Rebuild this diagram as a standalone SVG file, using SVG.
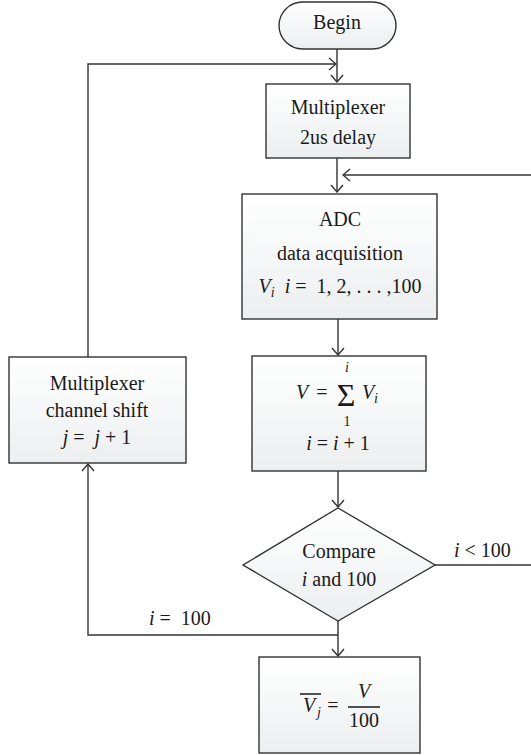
<svg xmlns="http://www.w3.org/2000/svg" width="531" height="755" viewBox="0 0 531 755">
<style>
.box{fill:url(#g);stroke:#333;stroke-width:1.4}
.c{fill:none;stroke:#333;stroke-width:1.4}
text{font-family:"Liberation Serif","DejaVu Serif",serif;fill:#1a1a1a}
.t{font-size:20px;text-anchor:middle}
.s{font-size:14px}
.i{font-style:italic}
</style>
<defs>
<linearGradient id="g" x1="0" y1="0" x2="0" y2="1">
<stop offset="0" stop-color="#ffffff"/>
<stop offset="1" stop-color="#eceeef"/>
</linearGradient>
<marker id="a" viewBox="-9 -7 10 14" refX="0" refY="0" markerWidth="10" markerHeight="14" markerUnits="userSpaceOnUse" orient="auto">
<path d="M-7,-6 L0,0 L-7,6" fill="none" stroke="#333" stroke-width="1.4"/>
</marker>
</defs>

<g id="connectors">
<path class="c" d="M337,49 V82" marker-end="url(#a)"/>
<path class="c" d="M88,357 V64 H336" marker-end="url(#a)"/>
<path class="c" d="M337,158 V192" marker-end="url(#a)"/>
<path class="c" d="M531,175 H343" marker-end="url(#a)"/>
<path class="c" d="M338,319 V355" marker-end="url(#a)"/>
<path class="c" d="M338,471 V507" marker-end="url(#a)"/>
<path class="c" d="M435,565 H531"/>
<path class="c" d="M338,621 V656" marker-end="url(#a)"/>
<path class="c" d="M338,635 H88 V464" marker-end="url(#a)"/>
<text class="t" x="454" y="557" style="text-anchor:start"><tspan class="i">i</tspan>&#160;&lt;&#160;100</text>
<text class="t" x="149" y="625" style="text-anchor:start"><tspan class="i">i</tspan>&#160;=&#160;&#160;100</text>
</g>

<g id="begin">
<rect class="box" x="279" y="2" width="117" height="47" rx="23.5" ry="23.5"/>
<text class="t" x="337" y="29">Begin</text>
</g>

<g id="mux-delay">
<rect class="box" x="266" y="84" width="144" height="74"/>
<text class="t" x="338" y="114">Multiplexer</text>
<text class="t" x="338" y="144">2us delay</text>
</g>

<g id="adc">
<rect class="box" x="242" y="194" width="195" height="125"/>
<text class="t" x="340" y="226">ADC</text>
<text class="t" x="340" y="260">data acquisition</text>
<text class="t" x="340" y="293"><tspan class="i">V</tspan><tspan class="i" font-size="14" dy="4">i</tspan><tspan dy="-4">&#160;&#160;</tspan><tspan class="i">i</tspan>&#160;=&#160;&#160;1, 2, . . . ,100</text>
</g>

<g id="sum">
<rect class="box" x="252" y="356" width="174" height="115"/>
<text class="t i" x="302" y="399">V</text>
<text class="t" x="322" y="399">=</text>
<text class="t" x="346" y="406" style="font-size:32px">Σ</text>
<text class="s i" x="347" y="372" text-anchor="middle">i</text>
<text class="s" x="347" y="426" text-anchor="middle">1</text>
<text class="t i" x="368" y="399">V</text>
<text class="s i" x="374" y="403">i</text>
<text class="t" x="338" y="450"><tspan class="i">i</tspan>&#160;=&#160;<tspan class="i">i</tspan>&#160;+&#160;1</text>
</g>

<g id="compare">
<polygon class="box" points="338,508 435,565 338,621 243,565"/>
<text class="t" x="339" y="558">Compare</text>
<text class="t" x="339" y="586"><tspan class="i">i</tspan> and 100</text>
</g>

<g id="mux-shift">
<rect class="box" x="9" y="357" width="177" height="106"/>
<text class="t" x="97" y="390">Multiplexer</text>
<text class="t" x="97" y="417">channel shift</text>
<text class="t" x="97" y="444"><tspan class="i">j</tspan>&#160;=&#160;&#160;<tspan class="i">j</tspan>&#160;+&#160;1</text>
</g>

<g id="average">
<rect class="box" x="259" y="657" width="161" height="96"/>
<text class="t i" x="309" y="712">V</text>
<text class="s i" x="317" y="717">j</text>
<line x1="300" y1="694" x2="321" y2="694" stroke="#1a1a1a" stroke-width="1.5"/>
<text class="t" x="333" y="712">=</text>
<text class="t i" x="364" y="698">V</text>
<line x1="348" y1="707" x2="380" y2="707" stroke="#1a1a1a" stroke-width="1.5"/>
<text class="t" x="364" y="727">100</text>
</g>
</svg>
